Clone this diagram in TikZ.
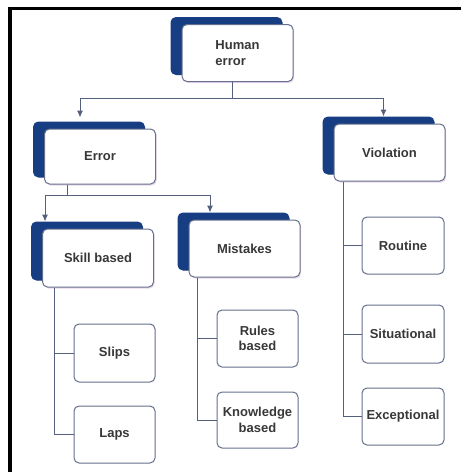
\documentclass[tikz,border=0pt]{standalone}
\usepackage{fontspec}
\setmainfont{Liberation Sans}
\usetikzlibrary{shadows,arrows.meta}

\definecolor{navy}{HTML}{173E82}
\definecolor{linkcol}{HTML}{55607F}
\definecolor{rim}{HTML}{66708C}
\definecolor{ink}{HTML}{383838}

\tikzset{
    leaf/.style={draw=rim, line width=1pt, fill=white, rounded corners=5pt,
        minimum width=82pt, minimum height=57pt, inner sep=0pt,
        font=\fontsize{13}{15.5}\selectfont\bfseries, text=ink, align=center},
    head/.style={leaf, minimum width=111pt, align=left,
        copy shadow={shadow xshift=-11pt, shadow yshift=7pt, fill=navy, draw=navy},
        drop shadow={shadow xshift=1.2pt, shadow yshift=-1.5pt, fill=violet!45, opacity=0.35}},
    wire/.style={draw=linkcol, line width=1pt},
    feed/.style={wire, -{Latex[length=7pt,width=6pt]}}
}

\begin{document}
\begin{tikzpicture}[x=1pt,y=-1pt]

\useasboundingbox (0,0) rectangle (461,472);

% Frame
\draw[line width=3pt] (8,8.5) -- (461,8.5);
\draw[line width=4pt] (10,7) -- (10,472);

% Main boxes
\node[head] (human) at (237.5,53) {Human\\error};
\node[head, minimum height=55pt] (error) at (100,156.5) {Error};
\node[head] (violation) at (389.5,152.5) {Violation};
\node[head, minimum height=58pt] (skill) at (98,258) {Skill based};
\node[head] (mistakes) at (244.5,248.5) {Mistakes};

% Leaf boxes
\node[leaf, minimum width=81pt, minimum height=58pt] (slips) at (114.5,353) {Slips};
\node[leaf, minimum width=81pt] (laps) at (114.5,434.5) {Laps};
\node[leaf, minimum width=81pt] (rules) at (257.5,338.5) {Rules\\based};
\node[leaf, minimum width=81pt, minimum height=56pt] (knowledge) at (257.5,420) {Knowledge\\based};
\node[leaf] (routine) at (403,245.5) {Routine};
\node[leaf, minimum height=58pt] (situational) at (403,334) {Situational};
\node[leaf] (exceptional) at (403,416.5) {Exceptional};

% Human error splits in two
\draw[wire] ([xshift=-5.5pt]human.south) -- ++(0,16) coordinate (split);
\draw[feed] (split) -| ([xshift=-20pt,yshift=11pt]error.north);
\draw[feed] (split) -| ([xshift=-6pt,yshift=7pt]violation.north);

% Error splits in two
\draw[wire] ([xshift=-33pt]error.south) -- ++(0,11) coordinate (fork);
\draw[feed] (fork) -| ([xshift=-53pt,yshift=7pt]skill.north);
\draw[feed] (fork) -| ([xshift=-34.5pt,yshift=7pt]mistakes.north);

% Side branches
\foreach \kid in {slips,laps}
    \draw[wire] ([xshift=-44pt]skill.south) |- (\kid.west);
\foreach \kid in {rules,knowledge}
    \draw[wire] ([xshift=-47.5pt]mistakes.south) |- (\kid.west);
\foreach \kid in {routine,situational,exceptional}
    \draw[wire] ([xshift=-46.5pt]violation.south) |- (\kid.west);

\end{tikzpicture}
\end{document}
